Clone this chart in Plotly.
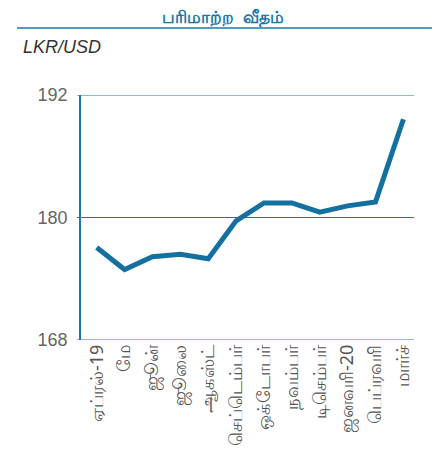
import plotly.graph_objects as go

months = ["ஏப்ரல்-19", "மே", "ஜூன்", "ஜூலை", "ஆகஸ்ட்", "செப்டெம்பர்", "ஒக்டோபர்",
          "நவம்பர்", "டிசெம்பர்", "ஜனவரி-20", "பெப்ரவரி", "மார்ச்"]
rate = [177.06, 174.9, 176.15, 176.4, 175.95, 179.67, 181.43, 181.43, 180.52, 181.14, 181.53, 189.62]
y_ticks = [168, 180, 192]

BLUE = "#1a78a8"
LINE = "#13709f"

# page offset (body margin) = 8px
L, T, W, H = 73, 87, 333, 245

def px(xp):  # page x -> paper
    return (xp - 8 - L) / W

def py(yp):  # page y -> paper
    return (T + H - (yp - 8)) / H

fig = go.Figure()
fig.add_trace(go.Scatter(x=months, y=rate, mode="lines",
                         line=dict(color=LINE, width=5), hoverinfo="skip"))

fig.update_layout(
    width=446, height=463,
    margin=dict(l=L, r=446 - L - W, t=T, b=463 - T - H),
    paper_bgcolor="white", plot_bgcolor="white",
    showlegend=False,
    font=dict(family="Noto Sans, DejaVu Sans, sans-serif"),
    xaxis=dict(type="category", range=[-0.563, 11.38], tickangle=-90,
               showgrid=False, showline=False, ticks="",
               tickfont=dict(size=18, color="#555555"), automargin=False),
    yaxis=dict(range=[168, 192], tickvals=y_ticks, showgrid=False,
               zeroline=False, showline=True, linecolor=BLUE, linewidth=1.5,
               ticks="", ticklabelstandoff=8,
               tickfont=dict(size=18, color="#666666", family="Liberation Sans, Arial, sans-serif"),
               automargin=False),
)

for v in y_ticks:
    fig.add_shape(type="line", xref="paper", yref="y", x0=-4 / W, x1=1.0,
                  y0=v, y1=v, line=dict(color=BLUE, width=1.2), layer="below")

fig.add_annotation(text="<b>பரிமாற்ற  வீதம்</b>", xref="paper", yref="paper",
                   x=px(223), y=py(30), xanchor="center", yanchor="bottom",
                   showarrow=False, font=dict(size=17, color=BLUE))
fig.add_annotation(text="<i>LKR/USD</i>", xref="paper", yref="paper",
                   x=px(21), y=py(47), xanchor="left", yanchor="middle",
                   showarrow=False, font=dict(size=18, color="#333333",
                                              family="Liberation Sans, Arial, sans-serif"))
fig.add_shape(type="line", xref="paper", yref="paper",
              x0=px(17), x1=px(432), y0=py(28), y1=py(28),
              line=dict(color=BLUE, width=1.5))

fig.write_html("out.html")
